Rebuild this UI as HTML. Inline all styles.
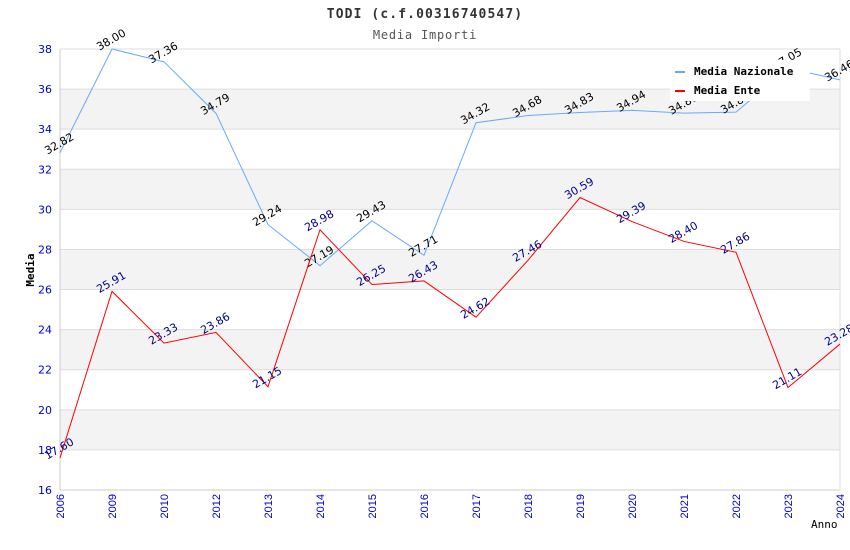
<!DOCTYPE html>
<html><head><meta charset="utf-8"><style>
body{margin:0;background:#fff}
svg{display:block;font-family:"Liberation Sans",sans-serif}
.mono{font-family:"DejaVu Sans Mono","Liberation Mono",monospace}
</style></head><body>
<svg id="c" width="850" height="550">
<text class="mono" x="425" y="18" text-anchor="middle" font-size="13" letter-spacing="1.1" font-weight="bold" fill="#333">TODI (c.f.00316740547)</text>
<text class="mono" x="425" y="39" text-anchor="middle" font-size="12" letter-spacing="0.8" fill="#555">Media Importi</text>
<g id="bands"></g><g id="grid"></g><g id="axes"></g><g id="series"></g>
<text class="mono" transform="translate(34,270) rotate(-90)" text-anchor="middle" font-size="11" font-weight="bold" fill="#000">Media</text>
<text class="mono" x="811" y="528" font-size="11" fill="#000">Anno</text>
<g>
<rect x="670" y="60" width="140" height="41" fill="#fff"/>
<rect x="675" y="71" width="10" height="2" fill="#6af"/>
<text class="mono" x="694" y="75" font-size="11" font-weight="bold">Media Nazionale</text>
<rect x="675" y="90" width="10" height="2" fill="#f00"/>
<text class="mono" x="694" y="94" font-size="11" font-weight="bold">Media Ente</text>
</g>
</svg>
<script>
const categories=["2006","2009","2010","2012","2013","2014","2015","2016","2017","2018","2019","2020","2021","2022","2023","2024"];
const nazionale=[32.82,38.00,37.36,34.79,29.24,27.19,29.43,27.71,34.32,34.68,34.83,34.94,34.80,34.85,37.05,36.46];
const ente=[17.60,25.91,23.33,23.86,21.15,28.98,26.25,26.43,24.62,27.46,30.59,29.39,28.40,27.86,21.11,23.28];
const yTicks=[16,18,20,22,24,26,28,30,32,34,36,38];
const NS="http://www.w3.org/2000/svg";
const L=60,R=840,T=49,B=490,yMin=16,yMax=38;
const x=i=>L+i*(R-L)/(categories.length-1);
const y=v=>B-(v-yMin)/(yMax-yMin)*(B-T);
function mk(tag,attrs,parent,text){const e=document.createElementNS(NS,tag);for(const k in attrs)e.setAttribute(k,attrs[k]);if(text!==undefined)e.textContent=text;document.getElementById(parent).appendChild(e);return e;}
yTicks.forEach((t,i)=>{
  if(i<yTicks.length-1 && i%2===1){const b=mk('rect',{x:L,y:y(yTicks[i+1]),width:R-L,height:y(t)-y(yTicks[i+1]),fill:'#f3f3f3'},'bands');
    
    }
  const g=mk('line',{x1:L,x2:R,y1:y(t),y2:y(t),stroke:'#ddd'},'grid');
  
  
  const tl=mk('text',{x:L-8,y:y(t)+4,'text-anchor':'end','font-size':11,'font-family':'DejaVu Sans, Liberation Sans, sans-serif',fill:'#00c'},'axes',t);
  
  
});
mk('line',{x1:L,x2:L,y1:T,y2:B,stroke:'#ccc'},'axes');
mk('line',{x1:L,x2:R,y1:B,y2:B,stroke:'#ccc'},'axes');
mk('line',{x1:R,x2:R,y1:T,y2:B,stroke:'#ddd'},'axes');
mk('line',{x1:L,x2:R,y1:T,y2:T,stroke:'#ddd'},'axes');
categories.forEach((c,i)=>{
  const t=mk('text',{transform:`translate(${x(i)+4},${B+4}) rotate(-90)`,'text-anchor':'end','font-size':11,fill:'#00c'},'axes',c);
  
  
});
function series(vals,color,lblColor,name){
  const p=mk('polyline',{points:vals.map((v,i)=>x(i)+','+y(v)).join(' '),fill:'none',stroke:color,'stroke-width':1},'series');
  
  
  vals.forEach((v,i)=>{
    const t=mk('text',{transform:`translate(${x(i)+1},${y(v)-6}) rotate(-30)`,'text-anchor':'middle','font-size':11,'font-family':'DejaVu Sans, Liberation Sans, sans-serif',fill:lblColor},'series',v.toFixed(2));
    
    
  });
}
series(nazionale,'#6af','#000','nazionale');
series(ente,'#f00','#008','ente');
</script>
</body></html>
